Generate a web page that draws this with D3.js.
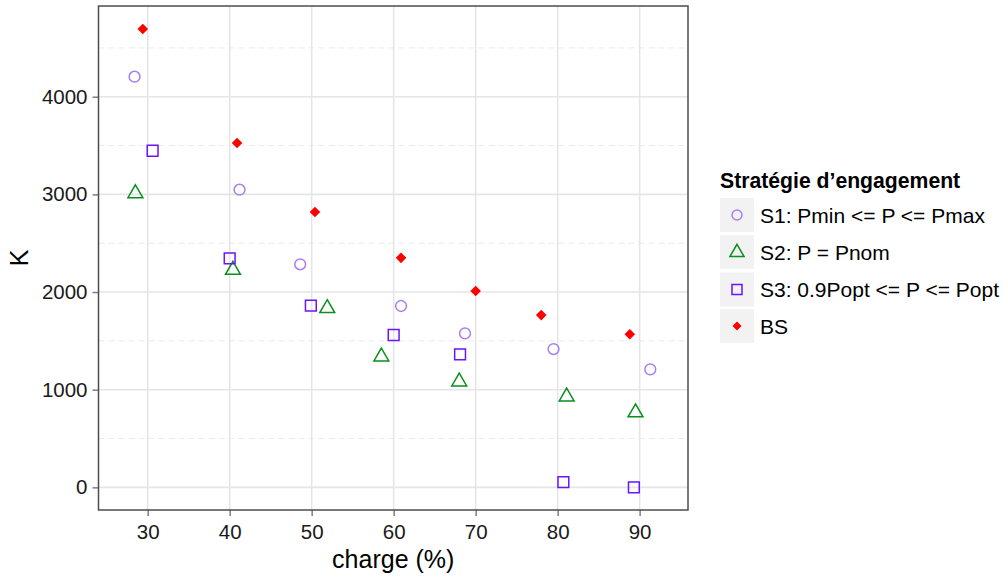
<!DOCTYPE html>
<html lang="fr">
<head>
<meta charset="utf-8">
<title>K vs charge</title>
<script src="https://d3js.org/d3.v7.min.js"></script>
<style>
  body { margin: 0; background: #fff; }
  text { font-family: "Liberation Sans", Arial, Helvetica, sans-serif; }
</style>
</head>
<body>
<script>
// ---- data ----
var seriesNames = ["S1: Pmin <= P <= Pmax", "S2: P = Pnom", "S3: 0.9Popt <= P <= Popt", "BS"];
var legendTitle = "Stratégie d’engagement";

var s1Charge = [28.4, 41.2, 48.6, 60.9, 68.7, 79.5, 91.3];
var s1K      = [4205, 3048, 2284, 1857, 1577, 1416, 1208];

var s2Charge = [28.5, 40.4, 51.9, 58.5, 68.0, 81.1, 89.5];
var s2K      = [3010, 2226, 1834, 1338, 1082, 929, 766];

var s3Charge = [30.6, 40.0, 49.9, 60.0, 68.1, 80.7, 89.3];
var s3K      = [3447, 2345, 1860, 1560, 1362, 54, 0];

var bsCharge = [29.4, 40.9, 50.4, 60.9, 70.0, 78.0, 88.8];
var bsK      = [4693, 3526, 2819, 2350, 2010, 1764, 1567];

var xTicks = [30, 40, 50, 60, 70, 80, 90];
var yTicks = [0, 1000, 2000, 3000, 4000];
var yMinor = [500, 1500, 2500, 3500, 4500];

// ---- layout ----
var W = 1004, H = 576;
var panel = {left: 98.5, top: 6, right: 688, bottom: 510};

var svg = d3.select("body").append("svg")
    .attr("width", W).attr("height", H);

var x = d3.scaleLinear().domain([24.0, 95.9]).range([panel.left, panel.right]);
var y = d3.scaleLinear().domain([-232, 4929]).range([panel.bottom, panel.top]);

// grid
var grid = svg.append("g");
grid.selectAll("line.minor").data(yMinor).enter().append("line")
    .attr("x1", panel.left).attr("x2", panel.right)
    .attr("y1", function(d){ return y(d); }).attr("y2", function(d){ return y(d); })
    .attr("stroke", "#ebebeb").attr("stroke-width", 1).attr("stroke-dasharray", "6,4");
grid.selectAll("line.hmaj").data(yTicks).enter().append("line")
    .attr("x1", panel.left).attr("x2", panel.right)
    .attr("y1", function(d){ return y(d); }).attr("y2", function(d){ return y(d); })
    .attr("stroke", "#e5e5e5").attr("stroke-width", 1.6);
grid.selectAll("line.vmaj").data(xTicks).enter().append("line")
    .attr("y1", panel.top).attr("y2", panel.bottom)
    .attr("x1", function(d){ return x(d); }).attr("x2", function(d){ return x(d); })
    .attr("stroke", "#e5e5e5").attr("stroke-width", 1.6);

// axes
var xAxis = svg.append("g")
    .attr("transform", "translate(0," + panel.bottom + ")")
    .call(d3.axisBottom(x).tickValues(xTicks).tickFormat(d3.format("d")).tickSize(6).tickPadding(5));
var yAxis = svg.append("g")
    .attr("transform", "translate(" + panel.left + ",0)")
    .call(d3.axisLeft(y).tickValues(yTicks).tickFormat(d3.format("d")).tickSize(6).tickPadding(5));
[xAxis, yAxis].forEach(function(a){
  a.select(".domain").remove();
  a.selectAll("line").attr("stroke", "#7f7f7f").attr("stroke-width", 1.5);
  a.selectAll("text").attr("fill", "#1a1a1a").style("font-size", "20.5px")
    .style("font-family", "'Liberation Sans', Arial, sans-serif");
});
xAxis.selectAll("text").attr("dy", "0.9em");

// panel border
svg.append("rect")
    .attr("x", panel.left).attr("y", panel.top)
    .attr("width", panel.right - panel.left).attr("height", panel.bottom - panel.top)
    .attr("fill", "none").attr("stroke", "#4d4d4d").attr("stroke-width", 1.5);

// axis titles
svg.append("text").attr("x", (panel.left + panel.right) / 2).attr("y", 568)
    .attr("text-anchor", "middle").style("font-size", "25px").attr("fill", "#000")
    .text("charge (%)");
svg.append("text")
    .attr("transform", "translate(28," + ((panel.top + panel.bottom) / 2) + ") rotate(-90)")
    .attr("text-anchor", "middle").style("font-size", "25px").attr("fill", "#000")
    .text("K");

// marks
var colors = ["#a87ff0", "#0a8f1e", "#6a14ff", "#ff0000"];
var symCircle = d3.symbol().type(d3.symbolCircle).size(Math.PI * 5.4 * 5.4);
var symTri = function(cx, cy, r) {
  // R-style triangle: apex r above centre, base r/2 below
  var h = r * Math.sqrt(3) / 2;
  return "M" + cx + "," + (cy - r) + "L" + (cx + h) + "," + (cy + r / 2) + "L" + (cx - h) + "," + (cy + r / 2) + "Z";
};
var symSquare = d3.symbol().type(d3.symbolSquare).size(10.8 * 10.8);
var symDiamond = function(cx, cy, r) {
  return "M" + cx + "," + (cy - r) + "L" + (cx + r) + "," + cy + "L" + cx + "," + (cy + r) + "L" + (cx - r) + "," + cy + "Z";
};

function pairs(xs, ys) { return xs.map(function(v, i){ return [v, ys[i]]; }); }

var pts = svg.append("g");
pts.selectAll("path.s1").data(pairs(s1Charge, s1K)).enter().append("path")
    .attr("d", symCircle)
    .attr("transform", function(d){ return "translate(" + x(d[0]) + "," + y(d[1]) + ")"; })
    .attr("fill", "none").attr("stroke", colors[0]).attr("stroke-width", 1.5);
pts.selectAll("path.s2").data(pairs(s2Charge, s2K)).enter().append("path")
    .attr("d", function(d){ return symTri(x(d[0]), y(d[1]), 8.6); })
    .attr("fill", "none").attr("stroke", colors[1]).attr("stroke-width", 1.5);
pts.selectAll("path.s3").data(pairs(s3Charge, s3K)).enter().append("path")
    .attr("d", symSquare)
    .attr("transform", function(d){ return "translate(" + x(d[0]) + "," + y(d[1]) + ")"; })
    .attr("fill", "none").attr("stroke", colors[2]).attr("stroke-width", 1.5);
pts.selectAll("path.bs").data(pairs(bsCharge, bsK)).enter().append("path")
    .attr("d", function(d){ return symDiamond(x(d[0]), y(d[1]), 5.3); })
    .attr("fill", colors[3]);

// legend
var lg = svg.append("g").attr("transform", "translate(720,0)");
lg.append("text").attr("x", 0).attr("y", 188)
    .style("font-size", "21.2px").style("font-weight", "bold").attr("fill", "#000")
    .text(legendTitle);
var keyTop = [198, 235, 272.5, 309];
seriesNames.forEach(function(name, i) {
  var k = lg.append("g").attr("transform", "translate(0," + keyTop[i] + ")");
  k.append("rect").attr("width", 34).attr("height", 34).attr("fill", "#f2f2f2");
  var cx = 17, cy = 17;
  if (i === 0) {
    k.append("circle").attr("cx", cx).attr("cy", cy).attr("r", 5)
      .attr("fill", "none").attr("stroke", colors[0]).attr("stroke-width", 1.5);
  } else if (i === 1) {
    k.append("path").attr("d", symTri(cx, cy + 0.5, 8.2))
      .attr("fill", "none").attr("stroke", colors[1]).attr("stroke-width", 1.5);
  } else if (i === 2) {
    k.append("rect").attr("x", cx - 5).attr("y", cy - 5).attr("width", 10).attr("height", 10)
      .attr("fill", "none").attr("stroke", colors[2]).attr("stroke-width", 1.5);
  } else {
    k.append("path").attr("d", symDiamond(cx, cy, 4.5)).attr("fill", colors[3]);
  }
  k.append("text").attr("x", 40).attr("y", 17).attr("dy", "0.36em")
    .style("font-size", "21px").attr("fill", "#000").text(name);
});
</script>
</body>
</html>
